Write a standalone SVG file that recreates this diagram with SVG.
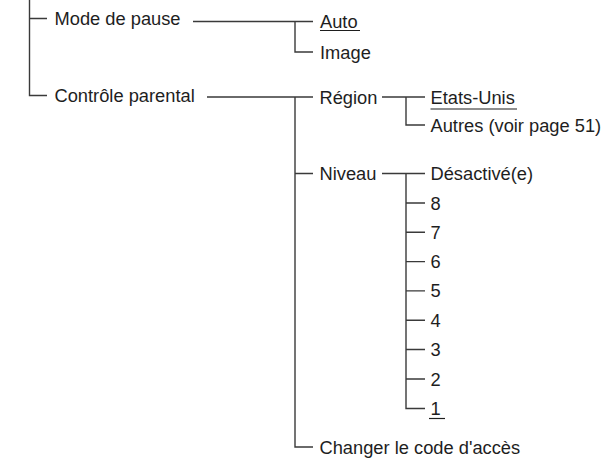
<svg xmlns="http://www.w3.org/2000/svg" width="606" height="460" viewBox="0 0 606 460">
<style>
.t{font-family:"Liberation Sans",Arial,Helvetica,sans-serif;font-size:18.3px;fill:#1e1e1e}
.c{stroke:#3a3a3a;stroke-width:1.4;fill:none}
.u{stroke:#1e1e1e;stroke-width:1.2}
</style>
<rect width="606" height="460" fill="#ffffff"/>
<g id="connectors" class="c">
<path d="M29.5 0V95.5H47M29.5 18.5H47"/>
<path d="M193 21.5H313M295 21.5V52H313"/>
<path d="M207 97H313M295 97V447H313M295 173.5H313"/>
<path d="M382 97H425M406 97V125H425"/>
<path d="M382 173.5H425M406 173.5V408.5H425M406 203H425M406 232.3H425M406 261.6H425M406 290.9H425M406 320.2H425M406 349.5H425M406 379H425"/>
</g>
<g id="mode-de-pause"><text class="t" x="54.5" y="25">Mode de pause</text></g>
<g id="auto"><text class="t" x="320" y="28">Auto</text><line class="u" x1="320" y1="30.5" x2="360" y2="30.5"/></g>
<g id="image"><text class="t" x="320" y="58.5">Image</text></g>
<g id="controle-parental"><text class="t" x="54.5" y="102">Contrôle parental</text></g>
<g id="region"><text class="t" x="319.5" y="103.5">Région</text></g>
<g id="etats-unis"><text class="t" x="430.5" y="103.5">Etats-Unis</text><line class="u" x1="430.5" y1="109" x2="517" y2="109"/></g>
<g id="autres"><text class="t" x="430.5" y="131.5">Autres (voir page 51)</text></g>
<g id="niveau"><text class="t" x="319.5" y="180">Niveau</text></g>
<g id="desactive"><text class="t" x="430.5" y="180">Désactivé(e)</text></g>
<g id="n8"><text class="t" x="430.5" y="209.5">8</text></g>
<g id="n7"><text class="t" x="430.5" y="238.8">7</text></g>
<g id="n6"><text class="t" x="430.5" y="268.1">6</text></g>
<g id="n5"><text class="t" x="430.5" y="297.4">5</text></g>
<g id="n4"><text class="t" x="430.5" y="326.7">4</text></g>
<g id="n3"><text class="t" x="430.5" y="356">3</text></g>
<g id="n2"><text class="t" x="430.5" y="385.5">2</text></g>
<g id="n1"><text class="t" x="430.5" y="415">1</text><line class="u" x1="429" y1="418.5" x2="445" y2="418.5"/></g>
<g id="changer-code"><text class="t" x="319.5" y="453.5">Changer le code d'accès</text></g>
</svg>
